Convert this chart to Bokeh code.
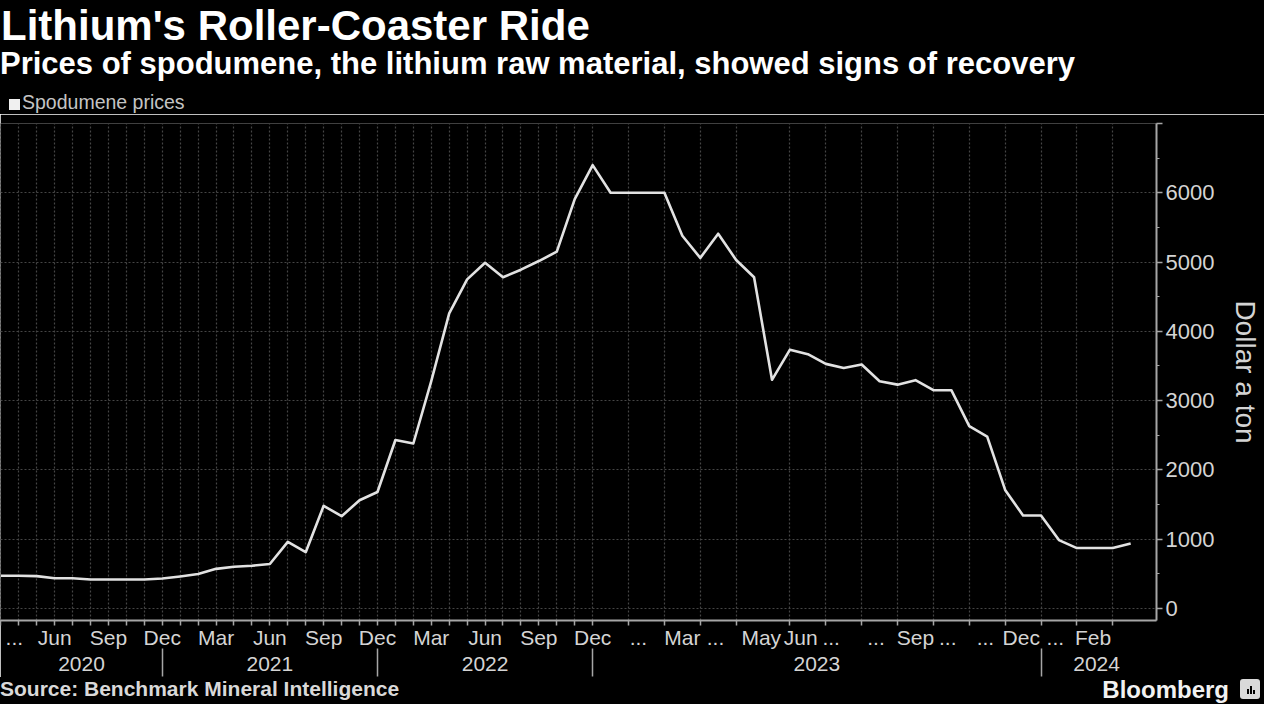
from bokeh.plotting import figure
from bokeh.models import FixedTicker, CustomJSTickFormatter, LinearAxis, Range1d, Div
from bokeh.layouts import column
from bokeh.embed import file_html
from bokeh.resources import INLINE

# ---------------- data ----------------
periods = [
    "2020-03", "2020-04", "2020-05", "2020-06", "2020-07", "2020-08", "2020-09", "2020-10",
    "2020-11", "2020-12", "2021-01", "2021-02", "2021-03", "2021-04", "2021-05", "2021-06",
    "2021-07", "2021-08", "2021-09", "2021-10", "2021-11", "2021-12", "2022-01", "2022-02",
    "2022-03", "2022-04", "2022-05", "2022-06", "2022-07", "2022-08", "2022-09", "2022-10",
    "2022-11", "2022-12",
    "2023-01a", "2023-01b", "2023-02a", "2023-02b", "2023-03a", "2023-03b", "2023-04a", "2023-04b",
    "2023-05a", "2023-05b", "2023-06a", "2023-06b", "2023-07a", "2023-07b", "2023-08a", "2023-08b",
    "2023-09a", "2023-09b", "2023-10a", "2023-10b", "2023-11a", "2023-11b", "2023-12a", "2023-12b",
    "2024-01a", "2024-01b", "2024-02a", "2024-02b", "2024-03a", "2024-03b",
]
spodumene_price = [
    470, 470, 465, 435, 435, 415, 415, 415, 415, 430, 460, 495, 570, 600, 615, 640,
    960, 810, 1480, 1330, 1560, 1680, 2430, 2380, 3280, 4260, 4750, 4990, 4780, 4890,
    5015, 5150, 5910, 6400,
    6000, 6000, 6000, 6000, 5380, 5060, 5410, 5030, 4780, 3300, 3735, 3670, 3530, 3470,
    3520, 3280, 3230, 3295, 3150, 3150, 2630, 2480, 1710, 1340, 1340, 985, 870, 870,
    870, 935,
]

# month labels (position on the point-index scale) and their text
month_tick_pos = [0.75, 3, 6, 9, 12, 15, 18, 21, 24, 27, 30, 33,
                  35.55, 38, 39.85, 42.4, 44.6, 46.3, 48.8, 51, 52.8, 54.9, 56.9, 58.8, 60.9]
month_tick_labels = ["...", "Jun", "Sep", "Dec", "Mar", "Jun", "Sep", "Dec", "Mar", "Jun", "Sep", "Dec",
                     "...", "Mar", "...", "May", "Jun", "...", "...", "Sep", "...", "...", "Dec", "...", "Feb"]
# tick marks / vertical grid lines
x_grid_pos = list(range(0, 34)) + [35, 37, 39, 41, 44, 46, 48, 50, 52, 54, 56, 58, 60, 62]
# year labels and separators
year_pos = [4.5, 15, 27, 45.5, 61.1]
year_labels = ["2020", "2021", "2022", "2023", "2024"]
year_separators = [9, 21, 33, 58]

y_ticks = [0, 1000, 2000, 3000, 4000, 5000, 6000, 7000]
y_minor = [500, 1500, 2500, 3500, 4500, 5500, 6500]

title_text = "Lithium's Roller-Coaster Ride"
subtitle_text = "Prices of spodumene, the lithium raw material, showed signs of recovery"
legend_text = "Spodumene prices"
source_text = "Source: Benchmark Mineral Intelligence"
brand_text = "Bloomberg"

# ---------------- layout constants ----------------
W = 1264
HEAD_H = 114
FIG_H = 563
FOOT_H = 704 - HEAD_H - FIG_H
FONT = "Liberation Sans"
AX = "#a6a6a6"
TXT = "#d4d4d4"
GRID = "#454545"

header = Div(width=W, height=HEAD_H, margin=0, styles={"background-color": "#000000"}, text=f"""
<div style="position:relative;width:{W}px;height:{HEAD_H}px;background:#000;font-family:'{FONT}'">
  <div style="position:absolute;left:1px;top:5px;font-size:42px;line-height:1;font-weight:bold;color:#ffffff;white-space:nowrap">{title_text}</div>
  <div style="position:absolute;left:0px;top:47.5px;font-size:31px;line-height:1;font-weight:bold;color:#ffffff;white-space:nowrap">{subtitle_text}</div>
  <div style="position:absolute;left:9px;top:99px;width:11px;height:11px;background:#f0f0f0"></div>
  <div style="position:absolute;left:22px;top:92px;font-size:19.5px;line-height:1.1;color:#c4c4c4;white-space:nowrap">{legend_text}</div>
</div>""")

footer = Div(width=W, height=FOOT_H, margin=0, styles={"background-color": "#000000"}, text=f"""
<div style="position:relative;width:{W}px;height:{FOOT_H}px;background:#000;font-family:'{FONT}'">
  <div style="position:absolute;left:0px;top:0px;font-size:21px;line-height:1.1;font-weight:bold;color:#d9d9d9;white-space:nowrap">{source_text}</div>
  <div style="position:absolute;right:35px;top:0px;font-size:24px;line-height:1.1;font-weight:bold;color:#f2f2f2;white-space:nowrap">{brand_text}</div>
  <div style="position:absolute;left:1240px;top:2px;width:20px;height:20px;background:#d9d9d9;border-radius:3px">
    <div style="position:absolute;left:7px;top:10px;width:2px;height:5px;background:#000"></div>
    <div style="position:absolute;left:10px;top:7px;width:2px;height:8px;background:#000"></div>
    <div style="position:absolute;left:13px;top:11px;width:2px;height:4px;background:#000"></div>
  </div>
</div>""")

p = figure(width=W, height=FIG_H, output_backend="svg", toolbar_location=None,
           title_location=None,
           x_range=Range1d(-0.02, 64.44), y_range=Range1d(-176, 7001),
           y_axis_location="right",
           min_border_left=0, min_border_right=108, min_border_top=9, min_border_bottom=57,
           background_fill_color="#000000", border_fill_color="#000000",
           outline_line_color=None, margin=0)

x = list(range(len(periods)))
p.line(x, spodumene_price, line_color="#e2e2e2", line_width=2.6, line_join="round")

# --- x axis (months) ---
xa = p.xaxis[0]
xa.ticker = FixedTicker(ticks=month_tick_pos, minor_ticks=x_grid_pos)
xa.formatter = CustomJSTickFormatter(args=dict(pos=month_tick_pos, lab=month_tick_labels), code="""
    for (let i = 0; i < pos.length; i++) { if (Math.abs(pos[i] - tick) < 1e-6) return lab[i]; }
    return "";
""")
xa.axis_line_color = AX
xa.axis_line_width = 2
xa.major_tick_line_color = None
xa.major_tick_out = 0
xa.major_tick_in = 0
xa.minor_tick_line_color = AX
xa.minor_tick_line_width = 1.5
xa.minor_tick_out = 5
xa.minor_tick_in = 0
xa.major_label_standoff = 0
xa.major_label_text_font = FONT
xa.major_label_text_font_size = "21px"
xa.major_label_text_color = TXT

# --- year axis (labels only) ---
ya2 = LinearAxis(ticker=FixedTicker(ticks=year_pos, minor_ticks=[]),
                 formatter=CustomJSTickFormatter(args=dict(pos=year_pos, lab=year_labels), code="""
    for (let i = 0; i < pos.length; i++) { if (Math.abs(pos[i] - tick) < 1e-6) return lab[i]; }
    return "";
"""))
ya2.axis_line_color = None
ya2.major_tick_line_color = None
ya2.minor_tick_line_color = None
ya2.major_tick_out = 0
ya2.major_tick_in = 0
ya2.minor_tick_out = 0
ya2.minor_tick_in = 0
ya2.major_label_standoff = 5
ya2.major_label_text_font = FONT
ya2.major_label_text_font_size = "21px"
ya2.major_label_text_color = TXT
p.add_layout(ya2, "below")

# --- year separators (ticks drawn upward into the year row) ---
sep = LinearAxis(ticker=FixedTicker(ticks=year_separators, minor_ticks=[]),
                 formatter=CustomJSTickFormatter(code="return '';"))
sep.axis_line_color = None
sep.major_tick_line_color = AX
sep.major_tick_line_width = 1.5
sep.major_tick_in = 25
sep.major_tick_out = 3
sep.minor_tick_line_color = None
sep.minor_tick_in = 0
sep.minor_tick_out = 0
sep.major_label_standoff = 0
sep.major_label_text_font_size = "0px"
p.add_layout(sep, "below")

# --- y axis (right) ---
ry = p.yaxis[0]
ry.ticker = FixedTicker(ticks=y_ticks, minor_ticks=y_minor)
ry.formatter = CustomJSTickFormatter(code="return tick >= 7000 ? '' : tick.toFixed(0);")
ry.axis_line_color = AX
ry.axis_line_width = 2
ry.major_tick_line_color = AX
ry.major_tick_line_width = 1.5
ry.major_tick_out = 6
ry.major_tick_in = 0
ry.minor_tick_line_color = AX
ry.minor_tick_out = 3
ry.minor_tick_in = 0
ry.major_label_standoff = 3
ry.major_label_text_font = FONT
ry.major_label_text_font_size = "22px"
ry.major_label_text_color = TXT
ry.axis_label = "Dollar a ton"
ry.axis_label_text_font = FONT
ry.axis_label_text_font_size = "28px"
ry.axis_label_text_font_style = "normal"
ry.axis_label_text_color = TXT
ry.axis_label_standoff = 13

# --- grids ---
p.ygrid.grid_line_color = GRID
p.ygrid.grid_line_dash = "2 2"
p.ygrid.grid_line_width = 1.2
p.xgrid.grid_line_color = None
p.xgrid.minor_grid_line_color = GRID
p.xgrid.minor_grid_line_dash = "2 2"
p.xgrid.minor_grid_line_width = 1.2

layout = column(header, p, footer, spacing=0, margin=0)
open("out.html", "w").write(file_html(layout, INLINE))
